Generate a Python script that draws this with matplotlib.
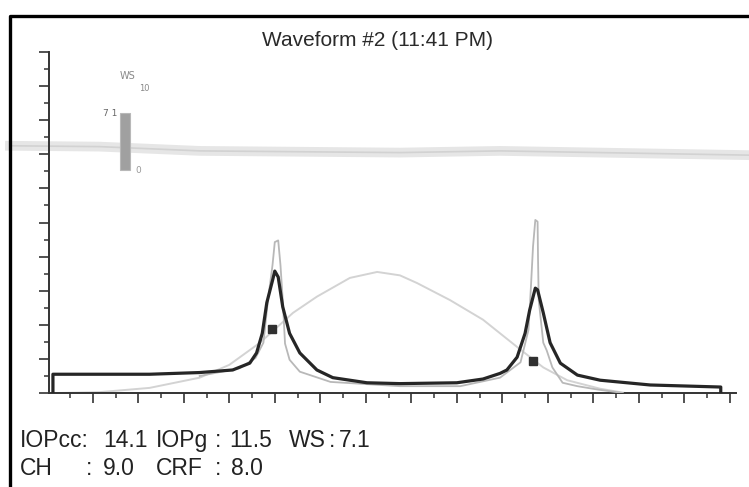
import numpy as np
import matplotlib
matplotlib.use('Agg')
import matplotlib.pyplot as plt
from matplotlib.lines import Line2D

# applanation signal (dark trace), x in tick units, y in tick units
appl_x = [0.25, 0.25, 2.3, 4.5, 5.6, 6.7, 8.15, 8.9, 9.2, 9.45, 9.65, 9.9, 10.0,
          10.15, 10.35, 10.65, 11.1, 11.85, 12.55, 14.05, 15.5, 18.0, 19.15, 19.9,
          20.2, 20.65, 21.0, 21.2, 21.45, 21.55, 21.8, 22.1, 22.55, 23.3, 24.3,
          26.5, 29.6, 29.6]
appl_y = [0.0, 1.1, 1.1, 1.1, 1.15, 1.2, 1.35, 1.75, 2.35, 3.5, 5.3, 6.6, 7.15,
          6.8, 5.05, 3.5, 2.35, 1.35, 0.9, 0.6, 0.55, 0.6, 0.82, 1.15,
          1.35, 2.1, 3.5, 4.85, 6.15, 6.05, 4.7, 2.95, 1.75, 1.05, 0.75,
          0.47, 0.35, 0.0]

# filtered applanation signal (light trace)
filt_x = [6.7, 8.45, 9.15, 9.5, 9.7, 9.9, 10.0, 10.15, 10.25, 10.35, 10.45, 10.65,
          11.1, 12.45, 15.5, 18.15, 19.9, 20.8, 21.15, 21.25, 21.35, 21.45, 21.55,
          21.57, 21.6, 21.8, 21.95, 22.2, 22.4, 22.65, 23.3, 24.2, 25.3]
filt_y = [1.0, 1.45, 2.05, 2.95, 5.45, 7.5, 8.85, 8.95, 7.5, 5.45, 2.9, 1.95,
          1.25, 0.65, 0.4, 0.4, 0.9, 1.8, 3.7, 6.05, 8.6, 10.15, 10.05,
          7.8, 5.45, 2.95, 2.5, 1.5, 1.1, 0.6, 0.4, 0.2, 0.0]

# pressure curve (faint trace)
pres_x = [0.55, 2.3, 4.5, 6.7, 8.0, 9.35, 10.8, 11.85, 13.3, 14.5, 15.5, 16.25,
          17.7, 19.15, 20.65, 21.8, 22.85, 24.3, 25.4]
pres_y = [0.0, 0.05, 0.3, 0.9, 1.65, 2.95, 4.7, 5.65, 6.75, 7.1, 6.9, 6.45,
          5.45, 4.3, 2.7, 1.5, 0.75, 0.25, 0.0]

# applanation markers
mark_x = [9.88, 21.35]
mark_y = [3.75, 1.9]

# scanner streak across the sheet
streak_x = [-1.64, 2.3, 6.7, 11.1, 15.5, 19.9, 24.3, 30.85]
streak_y = [14.5, 14.45, 14.2, 14.15, 14.1, 14.2, 14.1, 13.95]

# waveform score indicator
ws_value = 7.1
ws_max = 10
ws_bar_x = 3.42
ws_bar_bottom = 13.08
ws_bar_span = 4.7

title = "Waveform #2 (11:41 PM)"
row1 = [("IOPcc:", 20), ("14.1", 103), ("IOPg", 156), (":", 215), ("11.5", 229),
        ("WS", 289), (":", 329), ("7.1", 339)]
row2 = [("CH", 20), (":", 86), ("9.0", 103), ("CRF", 156), (":", 215), ("8.0", 231)]

W, H = 749, 487
fig = plt.figure(figsize=(W / 100, H / 100), dpi=100)
fig.patch.set_facecolor('white')

# sheet border
fig.add_artist(Line2D([10 / W, 10 / W, 1.0], [0.0, 1 - 16 / H, 1 - 16 / H],
                      transform=fig.transFigure, color='black', lw=2.4))

ax = fig.add_axes([49 / W, 1 - 393 / H, (736 - 49) / W, (393 - 52) / H])
ax.set_xlim(0.077, 30.27)
ax.set_ylim(0, 20)
for s in ['top', 'right']:
    ax.spines[s].set_visible(False)
for s in ['left', 'bottom']:
    ax.spines[s].set_color('#333333')
    ax.spines[s].set_linewidth(1.4)

ax.set_xticks(np.arange(2, 31, 2))
ax.set_xticks(np.arange(1, 31, 2), minor=True)
ax.set_yticks(np.arange(0, 21, 2))
ax.set_yticks(np.arange(1, 21, 2), minor=True)
ax.tick_params(which='major', direction='out', length=7.5, width=1.2, color='#333333',
               labelbottom=False, labelleft=False)
ax.tick_params(which='minor', direction='out', length=3.8, width=1.1, color='#333333')

ax.plot(streak_x, streak_y, color='#e6e6e6', lw=7, clip_on=False, zorder=1)
ax.plot(streak_x, streak_y, color='#d2d2d2', lw=1.2, clip_on=False, zorder=1)

ax.plot(pres_x, pres_y, color='#d3d3d3', lw=1.4, zorder=2)
ax.plot(filt_x, filt_y, color='#b8b8b8', lw=1.3, zorder=3)
ax.plot(appl_x, appl_y, color='#262626', lw=2.3, zorder=4)
ax.plot(mark_x, mark_y, 's', color='#303030', ms=5.5, zorder=5)

# WS bar
ax.bar(ws_bar_x, ws_value / ws_max * ws_bar_span, bottom=ws_bar_bottom, width=0.42,
       color='#a0a0a0', edgecolor='#b8b8b8', lw=0.8, zorder=3)
ax.text(ws_bar_x - 0.25, ws_bar_bottom + ws_bar_span + 0.8, "WS", fontsize=7,
        color='#888888', ha='left', va='center')
ax.text(ws_bar_x + 0.85, ws_bar_bottom + ws_bar_span + 0.05, str(ws_max), fontsize=6,
        color='#888888', ha='center', va='center')
ax.text(ws_bar_x - 0.35, ws_bar_bottom + ws_value / ws_max * ws_bar_span, "7 1", fontsize=6.5,
        color='#666666', ha='right', va='center')
ax.text(ws_bar_x + 0.6, ws_bar_bottom - 0.05, "0", fontsize=6.5,
        color='#999999', ha='center', va='center')

fig.text(378 / W, 1 - 40 / H, title, fontsize=15, color='#2a2a2a',
         family=['Liberation Sans', 'DejaVu Sans'], ha='center', va='center')

fam = ['Liberation Sans', 'DejaVu Sans']
for label, px in row1:
    fig.text(px / W, 1 - 447 / H, label, fontsize=16.5, color='#222222',
             family=fam, ha='left', va='baseline')
for label, px in row2:
    fig.text(px / W, 1 - 475 / H, label, fontsize=16.5, color='#222222',
             family=fam, ha='left', va='baseline')

fig.savefig('out.png', dpi=100, facecolor='white')
